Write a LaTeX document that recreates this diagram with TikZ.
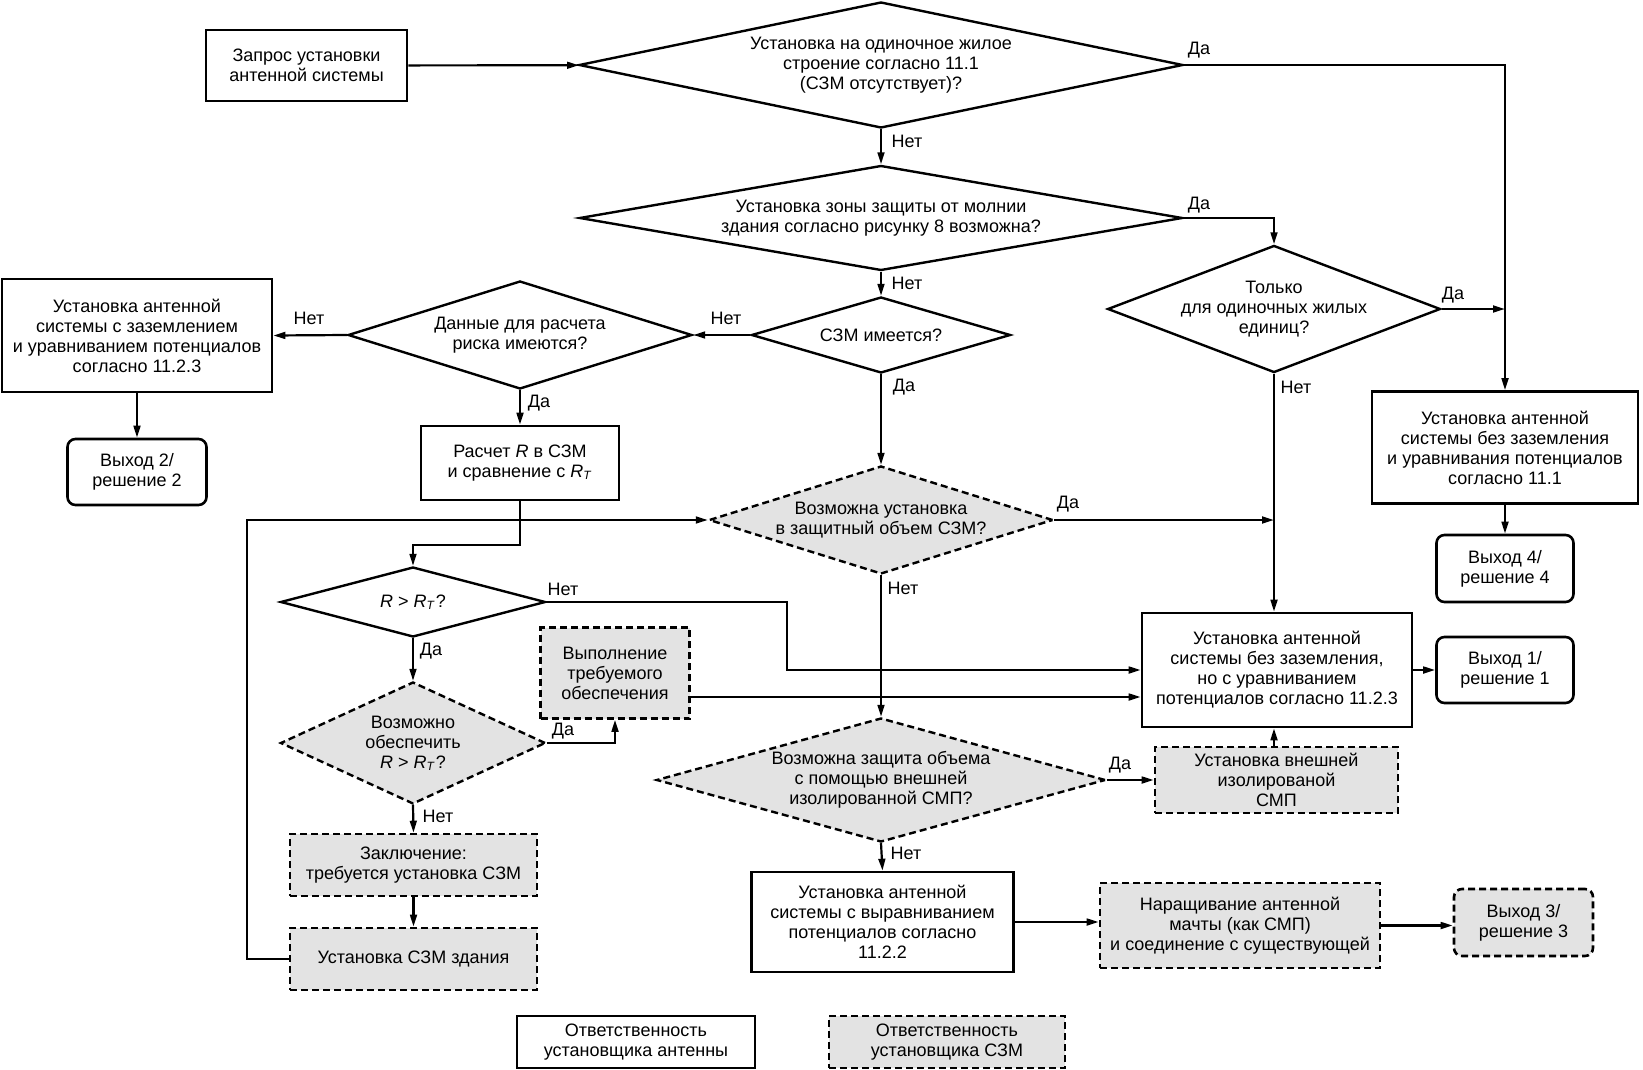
\documentclass[tikz,border=0pt]{standalone}
\usepackage{fontspec}
\setmainfont{Liberation Sans}
\usetikzlibrary{shapes.geometric,arrows.meta}
\begin{document}
\begin{tikzpicture}[x=0.5pt,y=-0.5pt,
  every node/.style={font=\fontsize{9}{10}\selectfont, align=center, inner sep=0pt},
  sz/.style 2 args={minimum width=#1*0.5pt, minimum height=#2*0.5pt},
  box/.style={draw, line width=1.3pt, rectangle},
  gbox/.style={draw, line width=1.3pt, rectangle, fill=black!11, dash pattern=on 3.5pt off 2pt},
  exitbox/.style={draw, line width=1.3pt, rectangle, rounded corners=4pt},
  gexit/.style={gbox, rounded corners=4pt},
  dia/.style n args={3}{diamond, draw, line width=1.2pt, sz={#1}{#2}, aspect=#3},
  gdia/.style n args={3}{dia={#1}{#2}{#3}, fill=black!11, dash pattern=on 3.5pt off 2pt},
  lbl/.style={font=\fontsize{9}{10}\selectfont},
  con/.style={line width=1.1pt, -{Triangle[length=6pt,width=3.4pt]}}
]
\useasboundingbox (0,0) rectangle (1643,1070);

% nodes
\node[box, sz={201}{71}] (start) at (306.5,65.5) {Запрос установки\\антенной системы};
\node[dia={604}{126}{4.794}] (d1) at (881,65) {Установка на одиночное жилое\\строение согласно 11.1\\(СЗМ отсутствует)?};
\node[dia={603}{105}{5.743}] (d2) at (881,218) {Установка зоны защиты от молнии\\здания согласно рисунку 8 возможна?};
\node[dia={259}{76}{3.408}] (d3) at (881,335) {СЗМ имеется?};
\node[dia={344}{108}{3.185}] (d4) at (520,335) {Данные для расчета\\риска имеются?};
\node[box, sz={270}{113}] (boxL) at (137,335.5) {Установка антенной\\системы с заземлением\\и уравниванием потенциалов\\согласно 11.2.3};
\node[exitbox, sz={139}{66}] (exit2) at (137,472) {Выход 2/\\решение 2};
\node[box, sz={198}{74}] (calc) at (520,463) {Расчет \textit{R} в СЗМ\\и сравнение с \textit{R}\textsubscript{\textit{T}}};
\node[dia={265}{70}{3.786}] (d5) at (413,602) {\textit{R} > \textit{R}\textsubscript{\textit{T}}?};
\node[gdia={265}{122}{2.172}] (d6) at (413,743) {Возможно\\обеспечить\\\textit{R} > \textit{R}\textsubscript{\textit{T}}?};
\node[gbox, sz={149}{91}] (vyp) at (615,673) {Выполнение\\требуемого\\обеспечения};
\node[gbox, sz={247}{62}] (zakl) at (413.5,865) {Заключение:\\требуется установка СЗМ};
\node[gbox, sz={247}{62}] (uszm) at (413.5,959) {Установка СЗМ здания};
\node[gdia={344}{108}{3.185}] (d7) at (881,520) {Возможна установка\\в защитный объем СЗМ?};
\node[dia={330}{126}{2.619}] (d8) at (1274,309) {Только\\для одиночных жилых\\единиц?};
\node[box, sz={266}{112}] (box4) at (1505,447.5) {Установка антенной\\системы без заземления\\и уравнивания потенциалов\\согласно 11.1};
\node[exitbox, sz={137}{67}] (exit4) at (1505,568.5) {Выход 4/\\решение 4};
\node[box, sz={270}{114}] (box16) at (1277,670) {Установка антенной\\системы без заземления,\\но с уравниванием\\потенциалов согласно 11.2.3};
\node[exitbox, sz={137}{66}] (exit1) at (1505,670) {Выход 1/\\решение 1};
\node[gdia={449}{124}{3.621}] (d9) at (881,780) {Возможна защита объема\\с помощью внешней\\изолированной СМП?};
\node[gbox, sz={243}{66}] (ext) at (1276.5,780) {Установка внешней\\изолированой\\СМП};
\node[box, sz={262}{100}] (box22) at (882.5,922) {Установка антенной\\системы с выравниванием\\потенциалов согласно\\11.2.2};
\node[gbox, sz={280}{85}] (nar) at (1240,925.5) {Наращивание антенной\\мачты (как СМП)\\и соединение с существующей};
\node[gexit, sz={139}{67}] (exit3) at (1523.5,922.5) {Выход 3/\\решение 3};
\node[box, sz={238}{52}] (leg1) at (636,1042) {Ответственность\\установщика антенны};
\node[gbox, sz={236}{52}] (leg2) at (947,1042) {Ответственность\\установщика СЗМ};

% helper coordinates
\coordinate (k1) at (787,602);
\coordinate (k2) at (247,959);

% connectors
\draw[con] (start) -- (d1);
\draw[con] (d1.east) -| (box4.north);
\draw[con] (d1.south) -- (d2.north);
\draw[con] (d2.east) -| (d8.north);
\draw[con] (d2.south) -- (d3.north);
\draw[con] (d3.west) -- (d4.east);
\draw[con] (d4.west) -- (boxL.east);
\draw[con] (boxL.south) -- (exit2.north);
\draw[con] (d4.south) -- (calc.north);
\draw[con] (calc.south) -- ++(0,44) -| (d5.north);
\draw[con] (d3.south) -- (d7.north);
\draw[con] (d7.east) -- (d7.east -| d8.south);
\draw[con] (d8.east) -- (d8.east -| box4.north);
\draw[con] (d8.south) -- (d8.south |- box16.north);
\draw[con] (box4.south) -- (exit4.north);
\draw[con] (box16.east) -- (exit1.west);
\draw[con] (d7.south) -- (d9.north);
\draw[con] (d5.east) -- (k1) |- (box16.west);
\draw[con] ([yshift=-12pt]vyp.east) -- ([yshift=-12pt]vyp.east -| box16.west);
\draw[con] (d6.east) -| (vyp.south);
\draw[con] (d5.south) -- (d6.north);
\draw[con] (d6.south) -- (zakl.north);
\draw[con] (zakl.south) -- (uszm.north);
\draw[con] (uszm.west) -- (k2) |- (d7.west);
\draw[con] (d9.east) -- (ext.west);
\draw[con] (ext.north -| d8.south) -- (d8.south |- box16.south);
\draw[con] (d9.south) -- (box22.north);
\draw[con] (box22.east) -- (box22.east -| nar.west);
\draw[con] (nar.east) -- (nar.east -| exit3.west);

% labels
\node[lbl] (l1) at (1199,50) {Да};
\node[lbl] (l2) at (907,141) {Нет};
\node[lbl] (l3) at (1199,205) {Да};
\node[lbl] (l4) at (907,283) {Нет};
\node[lbl] (l5) at (726,318) {Нет};
\node[lbl] (l6) at (309,318) {Нет};
\node[lbl] (l7) at (539,403) {Да};
\node[lbl] (l8) at (904,387) {Да};
\node[lbl] (l9) at (1453,295) {Да};
\node[lbl] (l10) at (1296,387) {Нет};
\node[lbl] (l11) at (1068,504) {Да};
\node[lbl] (l12) at (903,588) {Нет};
\node[lbl] (l13) at (563,589) {Нет};
\node[lbl] (l14) at (431,651) {Да};
\node[lbl] (l15) at (563,731) {Да};
\node[lbl] (l16) at (438,816) {Нет};
\node[lbl] (l17) at (1120,765) {Да};
\node[lbl] (l18) at (906,853) {Нет};
\end{tikzpicture}
\end{document}
